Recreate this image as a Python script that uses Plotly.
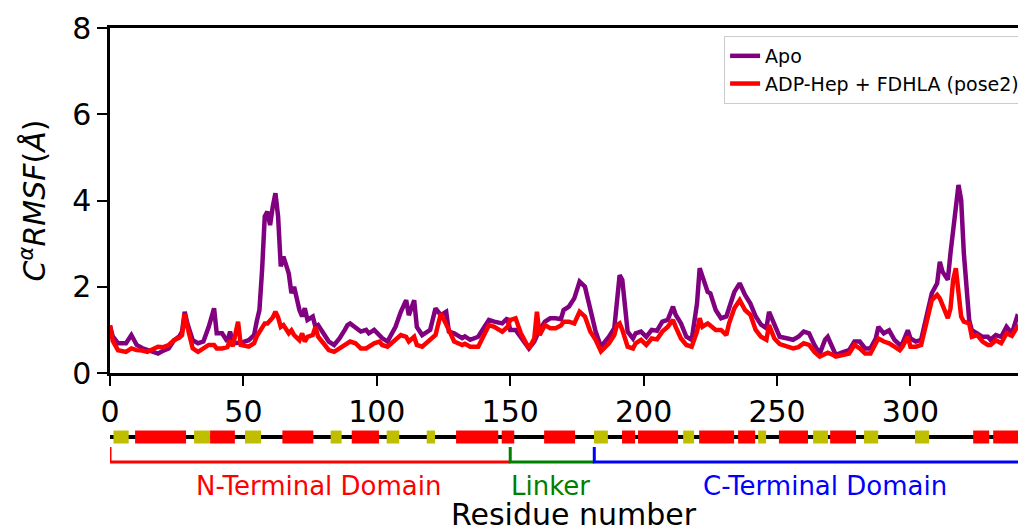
import plotly.graph_objects as go

# ---------------- data ----------------
residue = [0, 1, 3, 6, 8, 10, 12, 14, 16, 18, 20, 22, 24, 26, 27, 28, 29, 31, 33, 35,
           37, 39, 40, 42, 44, 45, 46, 48, 49, 52, 54, 55, 56, 57, 58, 59, 60, 61, 62, 63,
           64, 65, 67, 68, 69, 71, 72, 73, 74, 76, 77, 78, 80, 82, 84, 86, 88, 89, 90, 92,
           94, 96, 97, 99, 101, 102, 104, 107, 109, 111, 112, 114, 115, 117, 120, 122, 124, 126, 127, 129,
           132, 133, 135, 138, 140, 142, 144, 147, 149, 150, 152, 154, 156, 157, 159, 160, 161, 163, 165, 167,
           169, 170, 172, 174, 176, 178, 180, 182, 184, 187, 189, 190, 191, 192, 194, 196, 197, 199, 201, 203,
           205, 207, 209, 211, 212, 214, 216, 218, 220, 221, 222, 224, 225, 227, 229, 231, 232, 234, 236, 238,
           240, 242, 244, 246, 247, 249, 251, 254, 256, 258, 260, 262, 264, 266, 268, 269, 271, 272, 275, 277,
           279, 281, 283, 285, 287, 288, 290, 292, 294, 296, 297, 299, 300, 302, 304, 306, 308, 310, 311, 312,
           314, 315, 316, 317, 318, 319, 320, 322, 323, 325, 327, 329, 330, 332, 334, 336, 338, 340, 341, 342,
           343, 344]

rmsf_apo = [1.10, 0.85, 0.69, 0.69, 0.88, 0.65, 0.58, 0.53, 0.50, 0.45, 0.52, 0.57, 0.76, 0.85, 0.96, 1.42, 1.15, 0.76, 0.69, 0.73,
            1.07, 1.50, 0.92, 0.92, 0.73, 0.96, 0.69, 0.69, 0.70, 0.76, 0.88, 1.20, 1.46, 2.39, 3.63, 3.74, 3.43, 3.86, 4.17, 3.63,
            2.47, 2.70, 2.31, 1.85, 2.00, 1.46, 1.31, 1.50, 1.23, 1.31, 1.07, 1.11, 0.92, 0.73, 0.65, 0.80, 1.00, 1.11, 1.15, 1.07,
            0.96, 1.00, 0.92, 1.00, 0.88, 0.81, 0.73, 1.07, 1.42, 1.69, 1.34, 1.69, 1.07, 0.88, 1.00, 1.50, 1.34, 1.42, 0.96, 0.92,
            0.81, 0.85, 0.77, 0.84, 1.04, 1.23, 1.19, 1.15, 1.27, 1.00, 1.00, 0.81, 0.65, 0.57, 0.73, 0.88, 1.00, 1.19, 1.27, 1.27,
            1.25, 1.46, 1.54, 1.73, 2.12, 2.00, 1.46, 0.96, 0.61, 0.84, 1.04, 1.69, 2.27, 2.16, 0.96, 0.80, 0.92, 0.96, 0.84, 1.00,
            0.98, 1.19, 1.23, 1.54, 1.35, 1.15, 0.84, 0.77, 1.61, 2.43, 2.27, 1.88, 1.85, 1.46, 1.27, 1.31, 1.50, 1.88, 2.08, 1.81,
            1.61, 1.31, 1.12, 1.04, 1.42, 1.12, 0.84, 0.80, 0.77, 0.84, 0.96, 0.92, 0.65, 0.45, 0.77, 0.84, 0.53, 0.42, 0.49, 0.53,
            0.73, 0.73, 0.57, 0.57, 0.80, 1.07, 0.92, 0.99, 0.77, 0.65, 0.69, 0.99, 0.80, 0.73, 0.77, 1.31, 1.85, 2.08, 2.58, 2.35,
            2.16, 2.78, 3.32, 3.80, 4.36, 4.01, 2.78, 1.23, 0.99, 0.92, 0.84, 0.84, 0.77, 0.88, 0.84, 1.07, 0.92, 1.31, 1.28, 1.61,
            2.54, 3.00]

rmsf_holo = [1.10, 0.75, 0.53, 0.49, 0.57, 0.53, 0.52, 0.49, 0.55, 0.61, 0.60, 0.65, 0.76, 0.82, 0.88, 1.37, 1.07, 0.57, 0.49, 0.57,
             0.65, 0.65, 0.57, 0.57, 0.60, 0.76, 0.62, 1.19, 0.65, 0.61, 0.69, 0.85, 0.96, 1.07, 1.15, 1.15, 1.22, 1.29, 1.42, 1.29,
             1.07, 1.11, 0.92, 0.99, 0.88, 0.76, 0.92, 0.73, 0.84, 0.88, 1.07, 0.84, 0.69, 0.53, 0.49, 0.57, 0.68, 0.70, 0.73, 0.69,
             0.57, 0.57, 0.61, 0.69, 0.73, 0.65, 0.61, 0.77, 0.88, 0.84, 0.73, 0.84, 0.65, 0.61, 0.77, 0.88, 1.38, 1.15, 1.00, 0.73,
             0.65, 0.68, 0.61, 0.61, 0.84, 1.11, 1.07, 0.96, 1.07, 1.23, 1.27, 0.92, 0.69, 0.57, 0.80, 1.42, 0.88, 1.11, 1.04, 1.04,
             1.10, 1.19, 1.19, 1.15, 1.42, 1.31, 0.96, 0.77, 0.50, 0.69, 0.88, 1.11, 1.15, 1.00, 0.61, 0.57, 0.69, 0.77, 0.65, 0.80,
             0.78, 0.96, 1.07, 1.23, 1.07, 0.80, 0.65, 0.61, 0.96, 1.27, 1.07, 1.15, 1.10, 1.00, 1.00, 0.88, 1.15, 1.50, 1.69, 1.46,
             1.35, 1.00, 0.84, 0.77, 1.11, 0.80, 0.67, 0.61, 0.57, 0.60, 0.69, 0.65, 0.49, 0.38, 0.45, 0.47, 0.42, 0.38, 0.42, 0.45,
             0.65, 0.57, 0.45, 0.45, 0.69, 0.80, 0.73, 0.69, 0.61, 0.53, 0.61, 0.84, 0.61, 0.61, 0.65, 1.15, 1.69, 1.81, 1.73, 1.58,
             1.27, 1.50, 2.16, 2.43, 1.77, 1.31, 1.19, 1.15, 0.84, 0.88, 0.73, 0.65, 0.65, 0.76, 0.69, 0.92, 0.86, 1.07, 1.10, 1.61,
             2.54, 3.00]

series_names = ["Apo", "ADP-Hep + FDHLA (pose2)"]
series_colors = ["#800080", "#ff0000"]

# secondary structure (start, end residue)
helix_start = [9.4, 37.5, 64.6, 90.6, 129.7, 146.8, 162.7, 191.9, 197.9, 220.8, 235.4, 250.7, 269.9, 323.5, 331.0]
helix_end   = [28.5, 46.8, 76.2, 100.8, 145.5, 151.5, 174.3, 196.8, 212.9, 233.9, 241.8, 261.6, 279.6, 329.5, 355.0]
strand_start = [1.3, 31.5, 50.6, 82.7, 103.7, 118.7, 181.4, 214.8, 242.9, 263.5, 282.6, 301.7]
strand_end   = [7.0, 37.5, 56.6, 86.8, 108.4, 121.8, 186.6, 218.9, 245.9, 269.1, 287.9, 307.0]
chain_end = 355

# domains
domain_names = ["N-Terminal Domain", "Linker", "C-Terminal Domain"]
domain_start = [0, 150, 181.5]
domain_end = [150, 181.5, 355]
domain_label_x = [78, 165, 268]
domain_colors = ["#ff0000", "#008000", "#0000ff"]

x_ticks = [0, 50, 100, 150, 200, 250, 300]
y_ticks = [0, 2, 4, 6, 8]

FONT = "DejaVu Sans"

# ---------------- figure ----------------
fig = go.Figure()

for name, vals, col in zip(series_names, [rmsf_apo, rmsf_holo], series_colors):
    fig.add_trace(go.Scatter(x=residue, y=vals, mode="lines", name=name,
                             line=dict(color=col, width=4.5), xaxis="x", yaxis="y"))

# secondary-structure strip (on lower helper axis y2)
SS_LEVEL = 90
fig.add_trace(go.Bar(orientation="h", y=[SS_LEVEL], x=[chain_end], base=[0], width=4,
                     marker=dict(color="black", line=dict(width=0)),
                     showlegend=False, hoverinfo="skip", xaxis="x", yaxis="y2"))
fig.add_trace(go.Bar(orientation="h", y=[SS_LEVEL] * len(helix_start),
                     x=[e - s for s, e in zip(helix_start, helix_end)], base=helix_start, width=13,
                     marker=dict(color="#ff0000", line=dict(width=0)),
                     showlegend=False, hoverinfo="skip", xaxis="x", yaxis="y2"))
fig.add_trace(go.Bar(orientation="h", y=[SS_LEVEL] * len(strand_start),
                     x=[e - s for s, e in zip(strand_start, strand_end)], base=strand_start, width=13,
                     marker=dict(color="#bfbf00", line=dict(width=0)),
                     showlegend=False, hoverinfo="skip", xaxis="x", yaxis="y2"))

# domain brackets
BR_TOP, BR_BOT, LABEL_Y = 80, 65, 41
for s, e, c in zip(domain_start, domain_end, domain_colors):
    fig.add_trace(go.Scatter(x=[s, s, e], y=[BR_TOP, BR_BOT, BR_BOT], mode="lines",
                             line=dict(color=c, width=3), showlegend=False, hoverinfo="skip",
                             xaxis="x", yaxis="y2"))
for name, lx, c in zip(domain_names, domain_label_x, domain_colors):
    fig.add_annotation(x=lx, y=LABEL_Y, xref="x", yref="y2", text=name, showarrow=False,
                       font=dict(family=FONT, size=26, color=c))

fig.add_annotation(x=174, y=13, xref="x", yref="y2", text="Residue number", showarrow=False,
                   font=dict(family=FONT, size=30, color="black"))

# The page adds an 8px body margin, so the figure is 8px smaller and margins are offset.
fig.update_layout(
    width=1018, height=519,
    margin=dict(l=102, r=0, t=20, b=0, pad=0),
    paper_bgcolor="white", plot_bgcolor="white",
    barmode="overlay",
    font=dict(family=FONT, color="black"),
    xaxis=dict(range=[0, 343.3], tickvals=x_ticks, ticks="outside", ticklen=10, tickwidth=2,
               tickcolor="black", showline=True, linecolor="black", linewidth=2.5, mirror=True,
               showgrid=False, zeroline=False, tickfont=dict(family=FONT, size=30, color="black"),
               anchor="y", automargin=False),
    yaxis=dict(domain=[0.3086, 1], range=[0, 8], tickvals=y_ticks, ticks="outside", ticklen=10,
               tickwidth=2, tickcolor="black", showline=True, linecolor="black", linewidth=2.5,
               showgrid=False, zeroline=False, tickfont=dict(family=FONT, size=30, color="black"),
               title=dict(text="<i>C</i><sup><i>α</i></sup><i>RMSF</i>(<i>Å</i>)",
                          font=dict(family=FONT, size=30, color="black"), standoff=18),
               anchor="x", automargin=False),
    yaxis2=dict(domain=[0, 0.2144], range=[0, 107], visible=False, anchor="x", fixedrange=True,
                automargin=False),
    legend=dict(x=0.999, y=0.984, xanchor="right", yanchor="top", bgcolor="rgba(255,255,255,0.8)",
                bordercolor="#cccccc", borderwidth=1, tracegroupgap=0,
                font=dict(family=FONT, size=19, color="black")),
    showlegend=True,
)

fig.write_html("out.html")
